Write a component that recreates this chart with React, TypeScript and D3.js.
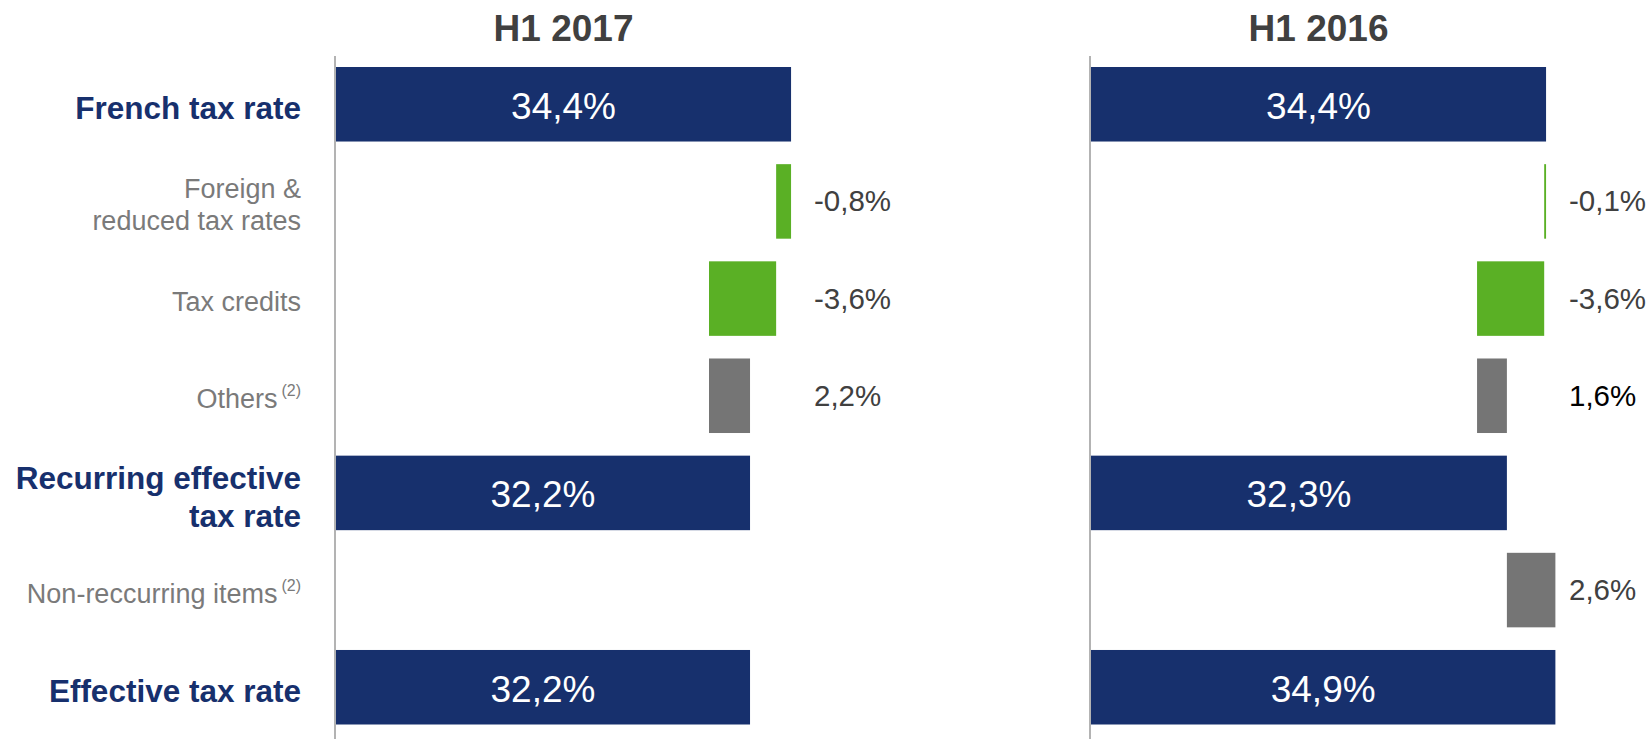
import * as d3 from 'd3';

// Tax rate bridge, H1 2017 vs H1 2016
const categories = [
  'French tax rate',
  'Foreign & reduced tax rates',
  'Tax credits',
  'Others',
  'Recurring effective tax rate',
  'Non-reccurring items',
  'Effective tax rate',
];
// 'total' bars start at the axis, 'delta' bars float
const kinds = ['total', 'delta', 'delta', 'delta', 'total', 'delta', 'total'];
const periods = ['H1 2017', 'H1 2016'];
const h1_2017 = [34.4, -0.8, -3.6, 2.2, 32.2, 0, 32.2];
const h1_2016 = [34.4, -0.1, -3.6, 1.6, 32.3, 2.6, 34.9];

const W = 1650;
const H = 739;
const NAVY = '#17306d';
const GREEN = '#5ab025';
const GREY_BAR = '#757575';
const LABEL_GREY = '#7a7a7a';
const TEXT_DARK = '#404040';
const FONT = '"Liberation Sans", Arial, sans-serif';

// label lines for the category column
const labelLines: Record<string, string[]> = {
  'Foreign & reduced tax rates': ['Foreign &', 'reduced tax rates'],
  'Recurring effective tax rate': ['Recurring effective', 'tax rate'],
};
const footnoted = new Set(['Others', 'Non-reccurring items']);

const locale = d3.formatLocale({
  decimal: ',',
  thousands: ' ',
  grouping: [3],
  currency: ['', '%'],
  minus: '-',
});
const fmt = (v: number) => locale.format('.1f')(v) + '%';

type Step = { cat: string; kind: string; value: number; start: number; end: number };

const buildSteps = (values: number[]): Step[] => {
  let running = 0;
  return values.map((v, i) => {
    if (kinds[i] === 'total') {
      running = v;
      return { cat: categories[i], kind: 'total', value: v, start: 10, end: v };
    }
    const start = running;
    running = running + v;
    return { cat: categories[i], kind: 'delta', value: v, start, end: running };
  });
};

const y = d3.scaleBand<string>().domain(categories).range([67, 724.5]).paddingInner(0.233).paddingOuter(0);

const Panel = ({ title, values, x0 }: { title: string; values: number[]; x0: number }) => {
  const x = d3.scaleLinear().domain([10, 36]).range([x0, x0 + 26 * 18.65]);
  const steps = buildSteps(values);
  const labelX = x0 + 478;
  const bw = y.bandwidth();
  return (
    <g>
      <text
        x={(x(10) + x(34.4)) / 2}
        y={41}
        textAnchor='middle'
        fontFamily={FONT}
        fontWeight='bold'
        fontSize={37}
        fill={TEXT_DARK}
      >
        {title}
      </text>
      <line x1={x0 - 1} x2={x0 - 1} y1={56} y2={H} stroke='#b3b3b3' strokeWidth={2} />
      {steps.map((s) => {
        const cy = (y(s.cat) || 0) + bw / 2;
        if (s.kind === 'total') {
          return (
            <g key={s.cat}>
              <rect x={x(10)} y={y(s.cat)} width={x(s.end) - x(10)} height={bw} fill={NAVY} />
              <text
                x={(x(10) + x(s.end)) / 2}
                y={cy + 14.5}
                textAnchor='middle'
                fontFamily={FONT}
                fontSize={37}
                fill='#ffffff'
              >
                {fmt(s.value)}
              </text>
            </g>
          );
        }
        if (s.value === 0) return null;
        const lo = Math.min(s.start, s.end);
        const hi = Math.max(s.start, s.end);
        return (
          <g key={s.cat}>
            <rect
              x={x(lo)}
              y={y(s.cat)}
              width={x(hi) - x(lo)}
              height={bw}
              fill={s.value < 0 ? GREEN : GREY_BAR}
            />
            <text
              x={labelX}
              y={cy + 10}
              fontFamily={FONT}
              fontSize={29.5}
              fill={title === 'H1 2016' && s.cat === 'Others' ? '#000000' : TEXT_DARK}
            >
              {fmt(s.value)}
            </text>
          </g>
        );
      })}
    </g>
  );
};

const CategoryLabels = () => {
  const right = 301;
  const bw = y.bandwidth();
  return (
    <g>
      {categories.map((c, i) => {
        const cy = (y(c) || 0) + bw / 2;
        const isTotal = kinds[i] === 'total';
        const fs = isTotal ? 31.5 : 27;
        const lh = isTotal ? 38 : 32.5;
        const lines = labelLines[c] || [c];
        const first = cy + (isTotal ? 15 : 12.5) - ((lines.length - 1) * lh) / 2;
        return (
          <text
            key={c}
            textAnchor='end'
            fontFamily={FONT}
            fontSize={fs}
            fontWeight={isTotal ? 'bold' : 'normal'}
            fill={isTotal ? NAVY : LABEL_GREY}
          >
            {lines.map((l, j) => (
              <tspan key={l} x={right} y={first + j * lh}>
                {l}
                {footnoted.has(c) ? (
                  <tspan fontSize={16} dx={4} dy={-12}>
                    (2)
                  </tspan>
                ) : null}
              </tspan>
            ))}
          </text>
        );
      })}
    </g>
  );
};

const App = () => {
  return (
    <svg
      width={W}
      height={H}
      viewBox={`0 0 ${W} ${H}`}
      style={{ position: 'absolute', left: 0, top: 0, background: '#ffffff' }}
    >
      <rect width={W} height={H} fill='#ffffff' />
      <CategoryLabels />
      <Panel title={periods[0]} values={h1_2017} x0={336} />
      <Panel title={periods[1]} values={h1_2016} x0={1091} />
    </svg>
  );
};

export default App;
